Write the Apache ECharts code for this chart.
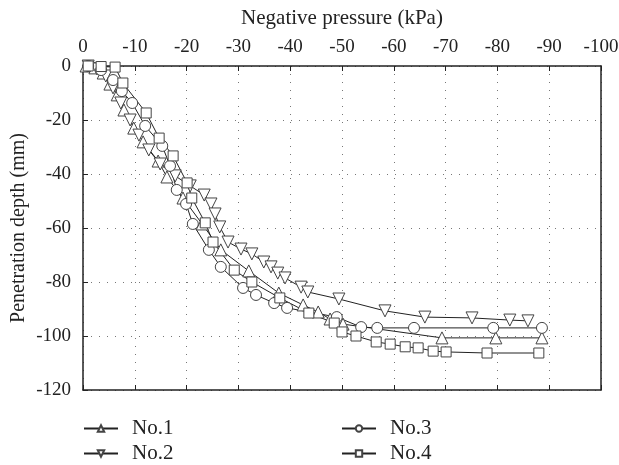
<!DOCTYPE html>
<html>
<head>
<meta charset="utf-8">
<script src="https://cdn.jsdelivr.net/npm/echarts@6/dist/echarts.min.js"></script>
<style>
html,body{margin:0;padding:0;background:#fff;}
#chart{width:619px;height:465px;}
</style>
</head>
<body>
<div id="chart"></div>
<script>
// Tick labels / axis ranges
const xTicks = [0, -10, -20, -30, -40, -50, -60, -70, -80, -90, -100];
const yTicks = [0, -20, -40, -60, -80, -100, -120];
const seriesNames = ['No.1', 'No.2', 'No.3', 'No.4'];

// No.1 (up triangles)
const no1X = [-0.6, -2.3, -3.9, -5.2, -6.6, -7.9, -9.8, -11.6, -14.5, -16.2, -19.3, -23.0, -26.6, -32.0, -37.8, -42.5, -45.4, -47.7, -50.2, -69.3, -79.7, -88.6];
const no1Y = [0, -0.7, -2.6, -6.7, -10.7, -16.3, -23.0, -28.1, -35.2, -41.1, -48.9, -58.5, -68.1, -75.9, -84.1, -88.5, -91.1, -93.7, -95.6, -100.7, -100.7, -100.7];

// No.2 (down triangles)
const no2X = [-1.0, -2.7, -4.4, -5.8, -7.3, -9.1, -10.8, -12.7, -14.9, -17.8, -20.7, -23.4, -24.7, -25.5, -26.4, -28.0, -30.5, -32.6, -34.9, -36.3, -37.6, -39.0, -42.1, -43.4, -49.4, -58.3, -66.0, -75.1, -82.4, -85.9];
const no2Y = [0, -1.1, -3.7, -8.1, -13.7, -20.0, -25.6, -31.1, -36.3, -40.7, -44.4, -47.8, -51.1, -54.8, -59.6, -65.2, -67.8, -69.6, -72.6, -74.4, -76.7, -78.5, -81.9, -83.7, -86.3, -90.7, -93.0, -93.3, -94.1, -94.4];

// No.3 (circles)
const no3X = [-1.0, -3.5, -5.8, -7.5, -9.5, -12.0, -15.3, -16.8, -18.1, -19.9, -21.2, -24.3, -26.6, -30.9, -33.4, -36.9, -39.4, -49.0, -53.7, -56.8, -63.9, -79.2, -88.6];
const no3Y = [0, -1.5, -5.2, -9.3, -13.7, -22.2, -29.6, -37.0, -45.9, -51.1, -58.5, -68.1, -74.4, -82.2, -84.8, -87.8, -89.6, -93.0, -96.7, -97.0, -97.0, -97.0, -97.0];

// No.4 (squares)
const no4X = [-1.0, -3.5, -6.2, -7.7, -12.2, -14.7, -17.4, -20.1, -21.0, -23.6, -25.1, -29.2, -32.6, -38.0, -43.6, -48.5, -50.0, -52.7, -56.6, -59.3, -62.2, -64.7, -67.6, -70.1, -78.0, -88.0];
const no4Y = [0, -0.2, -0.4, -6.3, -17.4, -26.7, -33.3, -43.3, -48.9, -58.1, -65.2, -75.6, -80.0, -85.9, -91.5, -95.2, -98.5, -100.0, -102.2, -103.0, -104.0, -104.4, -105.6, -105.9, -106.3, -106.3];

function pairs(xs, ys) { return xs.map((x, i) => [x, ys[i]]); }

const FONT = 'Liberation Serif';
const AXIS_COLOR = '#222';
const TXT = { color: '#222', fontFamily: FONT, fontSize: 19 };

const chart = echarts.init(document.getElementById('chart'), null, { renderer: 'canvas' });

function mkSeries(name, data, symbol, rotate) {
  return {
    name: name,
    type: 'line',
    data: data,
    symbol: symbol,
    symbolSize: symbol === 'circle' ? 11 : (symbol === 'rect' ? 10 : 12),
    symbolRotate: rotate || 0,
    showAllSymbol: true,
    lineStyle: { color: '#222', width: 1 },
    itemStyle: { color: '#fff', borderColor: '#444', borderWidth: 1 },
    emphasis: { disabled: true },
    animation: false,
    z: 3
  };
}

function mkLegend(name, left, top) {
  return {
    data: [name], orient: 'horizontal',
    left: left, top: top, itemWidth: 34, itemHeight: 8,
    padding: 0,
    textStyle: { color: '#222', fontFamily: FONT, fontSize: 21, padding: [0, 0, 0, 9] },
    selectedMode: false
  };
}

const option = {
  backgroundColor: '#fff',
  animation: false,
  grid: { left: 83, right: 18, top: 66, bottom: 75, containLabel: false, outerBoundsMode: 'none' },
  xAxis: [
    {
      type: 'value', position: 'top', inverse: true,
      min: xTicks[xTicks.length - 1], max: xTicks[0], interval: 10,
      name: 'Negative pressure (kPa)', nameLocation: 'middle', nameGap: 37, nameMoveOverlap: false,
      nameTextStyle: { color: '#222', fontFamily: FONT, fontSize: 21 },
      axisLine: { show: true, onZero: false, lineStyle: { color: AXIS_COLOR, width: 1.5 } },
      axisTick: { show: true, inside: true, length: 5, lineStyle: { color: AXIS_COLOR } },
      axisLabel: Object.assign({ margin: 9 }, TXT),
      splitLine: { show: true, lineStyle: { color: '#777', type: [1, 7], width: 1 } }
    },
    {
      type: 'value', position: 'bottom', inverse: true,
      min: -100, max: 0, interval: 10,
      axisLine: { show: true, onZero: false, lineStyle: { color: AXIS_COLOR, width: 1.5 } },
      axisTick: { show: true, inside: true, length: 5, lineStyle: { color: AXIS_COLOR } },
      axisLabel: { show: false },
      splitLine: { show: false }
    }
  ],
  yAxis: [
    {
      type: 'value', position: 'left',
      min: yTicks[yTicks.length - 1], max: yTicks[0], interval: 20,
      name: 'Penetration depth (mm)', nameLocation: 'middle', nameGap: 54, nameMoveOverlap: false,
      nameTextStyle: { color: '#222', fontFamily: FONT, fontSize: 20 },
      axisLine: { show: true, onZero: false, lineStyle: { color: AXIS_COLOR, width: 1.5 } },
      axisTick: { show: true, inside: true, length: 5, lineStyle: { color: AXIS_COLOR } },
      axisLabel: Object.assign({ margin: 12 }, TXT),
      splitLine: { show: true, lineStyle: { color: '#777', type: [1, 7], width: 1 } }
    },
    {
      type: 'value', position: 'right',
      min: -120, max: 0, interval: 20,
      axisLine: { show: true, onZero: false, lineStyle: { color: AXIS_COLOR, width: 1.5 } },
      axisTick: { show: false },
      axisLabel: { show: false },
      splitLine: { show: false }
    }
  ],
  legend: [
    mkLegend(seriesNames[0], 83, 418),
    mkLegend(seriesNames[1], 83, 443),
    mkLegend(seriesNames[2], 341, 418),
    mkLegend(seriesNames[3], 341, 443)
  ],
  series: [
    mkSeries(seriesNames[0], pairs(no1X, no1Y), 'triangle', 0),
    mkSeries(seriesNames[1], pairs(no2X, no2Y), 'triangle', 180),
    mkSeries(seriesNames[2], pairs(no3X, no3Y), 'circle', 0),
    mkSeries(seriesNames[3], pairs(no4X, no4Y), 'rect', 0)
  ]
};
chart.setOption(option);
</script>
</body>
</html>
